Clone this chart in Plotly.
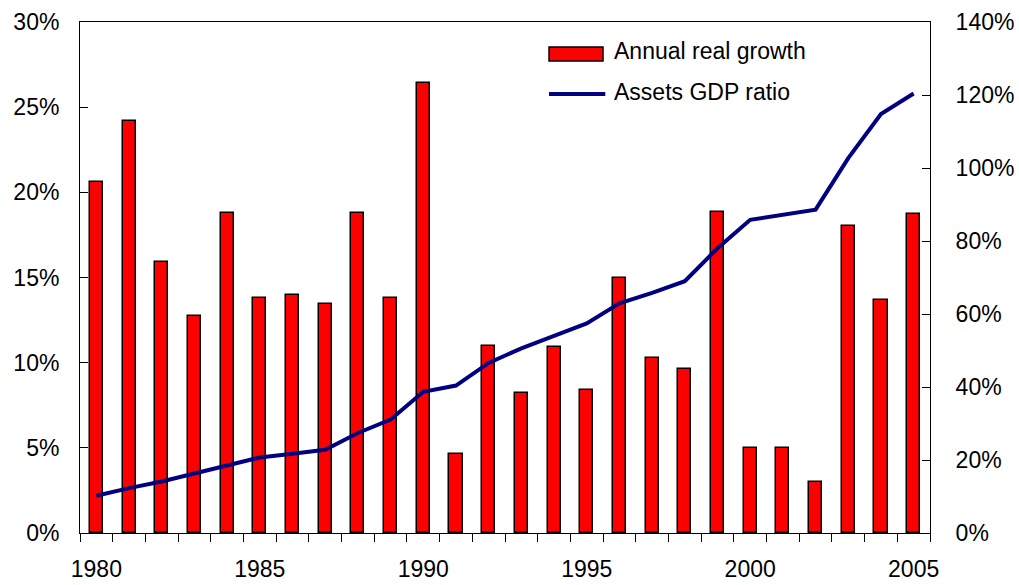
import plotly.graph_objects as go

years = list(range(1980, 2006))
growth = [20.6, 24.2, 15.9, 12.75, 18.8, 13.8, 14.0, 13.45, 18.8, 13.8,
          26.4, 4.65, 11.0, 8.2, 10.9, 8.4, 14.95, 10.3, 9.6, 18.85,
          5.0, 5.0, 3.0, 18.05, 13.7, 18.75]
assets_gdp = [10.2, 12.3, 14.1, 16.3, 18.6, 20.7, 21.7, 22.8, 27.4, 31.1,
              38.7, 40.4, 46.6, 50.6, 54.0, 57.4, 62.9, 65.8, 69.0, 78.0,
              85.8, 87.1, 88.6, 102.7, 114.8, 120.4]
name_growth = "Annual real growth"
name_assets = "Assets GDP ratio"
left_ticks = [0, 5, 10, 15, 20, 25, 30]
right_ticks = [0, 20, 40, 60, 80, 100, 120, 140]
x_labels = [1980, 1985, 1990, 1995, 2000, 2005]

FONT = "Liberation Sans, Arial, Helvetica, sans-serif"
FS = 23
boundaries = [y - 0.5 for y in years] + [years[-1] + 0.5]
xrange = [years[0] - 0.5, years[-1] + 0.5]

fig = go.Figure()
fig.add_trace(go.Bar(x=years, y=growth, name=name_growth, width=0.4,
                     marker=dict(color="#FF0000", line=dict(color="black", width=1.5)),
                     showlegend=False))
fig.add_trace(go.Scatter(x=years, y=assets_gdp, name=name_assets, yaxis="y2",
                         mode="lines", line=dict(color="#000080", width=4),
                         showlegend=False))

# manual legend
fig.add_shape(type="rect", xref="paper", yref="paper", x0=0.5518, x1=0.6153,
              y0=0.9237, y1=0.951, fillcolor="#FF0000", line=dict(color="black", width=1.5))
fig.add_shape(type="line", xref="paper", yref="paper", x0=0.5518, x1=0.618,
              y0=0.859, y1=0.859, line=dict(color="#000080", width=4))
fig.add_annotation(xref="paper", yref="paper", x=0.6259, y=0.9427, text=name_growth,
                   showarrow=False, xanchor="left", yanchor="middle",
                   font=dict(family=FONT, size=FS, color="black"))
fig.add_annotation(xref="paper", yref="paper", x=0.6259, y=0.8636, text=name_assets,
                   showarrow=False, xanchor="left", yanchor="middle",
                   font=dict(family=FONT, size=FS, color="black"))

fig.update_layout(
    width=1019, height=585,
    margin=dict(l=80, r=89, t=22, b=52, autoexpand=False),
    paper_bgcolor="white", plot_bgcolor="white",
    font=dict(family=FONT, size=FS, color="black"),
    bargap=0,
    xaxis=dict(range=xrange, tickmode="array", tickvals=x_labels,
               ticktext=[str(v) for v in x_labels], automargin=False,
               ticks="outside", ticklen=0, tickcolor="black",
               showline=True, linecolor="black", linewidth=1, mirror=True,
               showgrid=False, zeroline=False, ticklabelstandoff=15,
               minor=dict(tickmode="array", tickvals=boundaries, ticks="outside",
                          ticklen=8, tickcolor="black", tickwidth=1, showgrid=False)),
    xaxis3=dict(range=xrange, overlaying="x", anchor="y", showticklabels=False,
                tickmode="array", tickvals=boundaries, ticks="inside", ticklen=6,
                automargin=False,
                tickcolor="black", showline=False, showgrid=False, zeroline=False),
    yaxis=dict(range=[0, 30], tickmode="array", tickvals=left_ticks,
               ticktext=[f"{v}%" for v in left_ticks], automargin=False,
               ticks="inside", ticklen=8, tickcolor="black",
               showline=True, linecolor="black", linewidth=1,
               showgrid=False, zeroline=False, ticklabelstandoff=15),
    yaxis2=dict(range=[0, 140], tickmode="array", tickvals=right_ticks,
                ticktext=[f"{v}%" for v in right_ticks], automargin=False,
                overlaying="y", side="right",
                ticks="inside", ticklen=8, tickcolor="black",
                showline=True, linecolor="black", linewidth=1,
                showgrid=False, zeroline=False, ticklabelstandoff=20),
)

fig.write_html("out.html")
